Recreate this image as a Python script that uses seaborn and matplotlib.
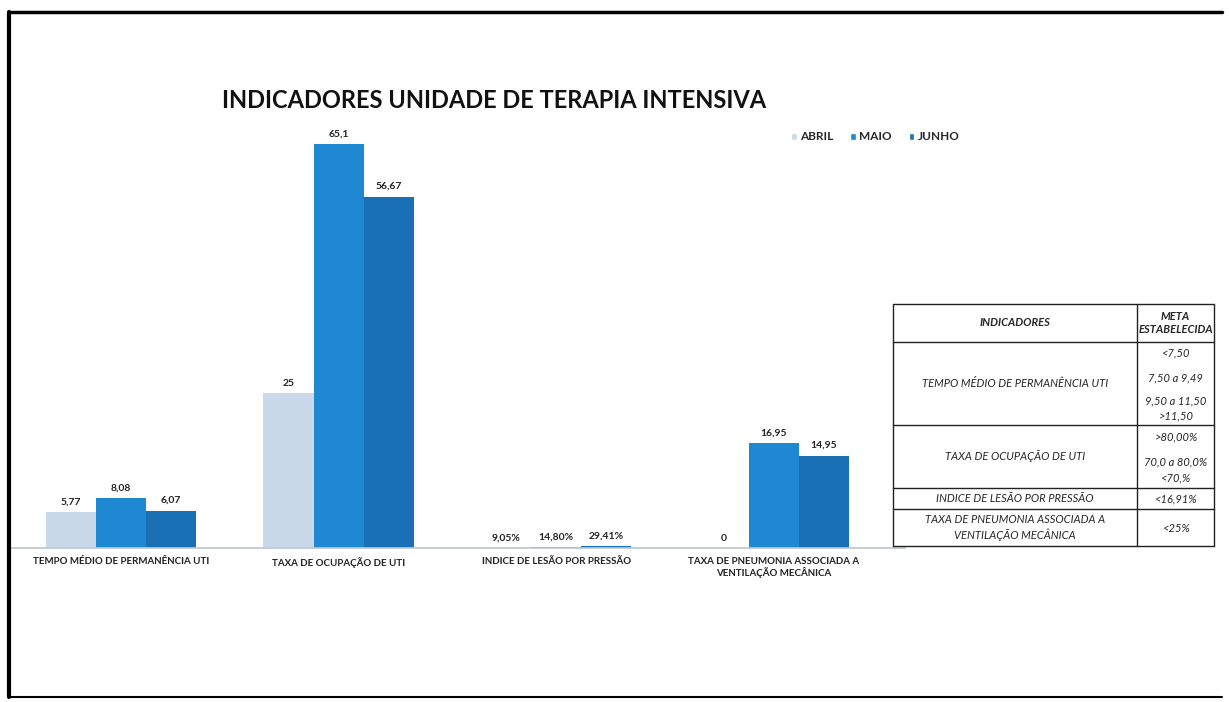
import pandas as pd
import matplotlib.pyplot as plt
import seaborn as sns
from matplotlib.patches import Patch

# === Chart data
categorias = [
    "TEMPO MÉDIO DE PERMANÊNCIA UTI",
    "TAXA DE OCUPAÇÃO DE UTI",
    "INDICE DE LESÃO POR PRESSÃO",
    "TAXA DE PNEUMONIA ASSOCIADA A\nVENTILAÇÃO MECÂNICA",
]
meses = ["ABRIL", "MAIO", "JUNHO"]
abril = [5.77, 25, 0.0905, 0]
maio = [8.08, 65.1, 0.148, 16.95]
junho = [6.07, 56.67, 0.2941, 14.95]
rotulos_abril = ["5,77", "25", "9,05%", "0"]
rotulos_maio = ["8,08", "65,1", "14,80%", "16,95"]
rotulos_junho = ["6,07", "56,67", "29,41%", "14,95"]

# === Goals table
tab_indicadores = [
    "TEMPO MÉDIO DE PERMANÊNCIA UTI",
    "TAXA DE OCUPAÇÃO DE UTI",
    "INDICE DE LESÃO POR PRESSÃO",
    "TAXA DE PNEUMONIA ASSOCIADA A\nVENTILAÇÃO MECÂNICA",
]
tab_metas = [
    ["<7,50", "7,50 a 9,49", "9,50 a 11,50", ">11,50"],
    [">80,00%", "70,0 a 80,0%", "<70,%"],
    ["<16,91%"],
    ["<25%"],
]

df = pd.DataFrame({
    "categoria": categorias * 3,
    "mes": [m for m in meses for _ in categorias],
    "valor": abril + maio + junho,
})

sns.set_theme(style="white")
plt.rcParams["font.family"] = ["Lato", "DejaVu Sans"]

fig = plt.figure(figsize=(12.29, 7.02), dpi=100)
ax = fig.add_axes([0.008, 0.219, 0.728, 0.601])

cores = ["#c9d9ea", "#1f88d2", "#1a70b4"]
sns.barplot(data=df, x="categoria", y="valor", hue="mes", palette=cores,
            width=0.69, saturation=1, linewidth=0, edgecolor="none", ax=ax, legend=False)

for cont, rot in zip(ax.containers, [rotulos_abril, rotulos_maio, rotulos_junho]):
    ax.bar_label(cont, labels=rot, padding=4, fontsize=7.5, fontweight="bold", color="#222222")

ax.set_xlim(-0.51, 3.6)
ax.set_ylim(0, 68)
ax.set_xlabel("")
ax.set_ylabel("")
ax.set_yticks([])
ax.tick_params(axis="x", length=0, pad=6)
ax.set_xticks(range(len(categorias)))
ax.set_xticklabels(categorias, fontsize=7, fontweight="bold", color="#222222")
for s in ["top", "right", "left"]:
    ax.spines[s].set_visible(False)
ax.spines["bottom"].set_color("#bfc8d0")
ax.patch.set_alpha(0)

# === Legend
handles = [Patch(facecolor=c, label=m) for c, m in zip(cores, meses)]
fig.legend(handles=handles, loc="center left", bbox_to_anchor=(780 / 1229, 1 - 137 / 702),
           ncol=3, frameon=False, handlelength=0.5, handleheight=0.5,
           handletextpad=0.3, columnspacing=1.4, prop={"weight": "bold", "size": 8.5})

# === Overlay in pixel coords for title, frame and table
ov = fig.add_axes([0, 0, 1, 1], zorder=5)
ov.set_xlim(0, 1229)
ov.set_ylim(702, 0)
ov.axis("off")
ov.patch.set_alpha(0)

ov.text(222, 101, "INDICADORES UNIDADE DE TERAPIA INTENSIVA", fontsize=17,
        fontweight="bold", va="center", ha="left", color="#111111")

# scanned page frame
ov.plot([9, 1222], [12, 12], color="black", lw=2.5)
ov.plot([9, 9], [12, 697], color="black", lw=3)
ov.plot([9, 1222], [697, 697], color="black", lw=1.5)

# table
x0, xm, x1 = 893, 1137, 1214
linhas_y = [304, 342, 425, 488, 509, 546]
for y in linhas_y:
    ov.plot([x0, x1], [y, y], color="#222222", lw=1)
for x in [x0, xm, x1]:
    ov.plot([x, x], [linhas_y[0], linhas_y[-1]], color="#222222", lw=1)

fs = 8
ov.text((x0 + xm) / 2, 323, "INDICADORES", fontsize=fs, fontweight="bold", style="italic",
        ha="center", va="center")
ov.text((xm + x1) / 2, 323, "META\nESTABELECIDA", fontsize=fs, fontweight="bold", style="italic",
        ha="center", va="center", linespacing=1.2)

metas_y = [[353, 378, 401, 416], [437, 462, 478], [499], [528]]
for i, nome in enumerate(tab_indicadores):
    yc = (linhas_y[i + 1] + linhas_y[i + 2]) / 2
    ov.text((x0 + xm) / 2, yc, nome, fontsize=fs, style="italic", ha="center", va="center",
            linespacing=1.3)
    for meta, ym in zip(tab_metas[i], metas_y[i]):
        ov.text((xm + x1) / 2, ym, meta, fontsize=fs, style="italic", ha="center", va="center")

fig.savefig("out.png", dpi=100, facecolor="white")
